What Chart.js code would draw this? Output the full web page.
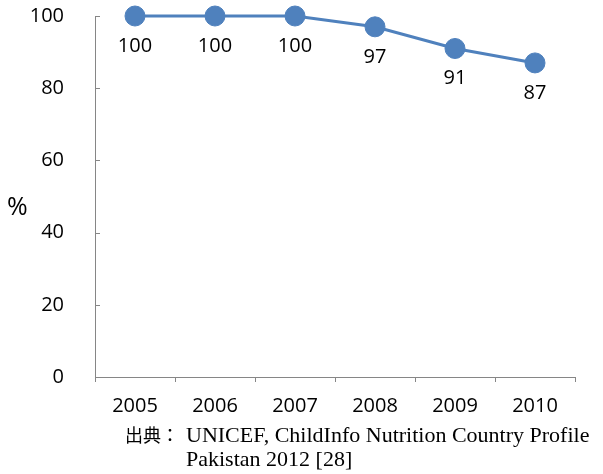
<!DOCTYPE html>
<html>
<head>
<meta charset="utf-8">
<script src="https://cdn.jsdelivr.net/npm/chart.js@4.4.1/dist/chart.umd.min.js"></script>
<style>
  html, body { margin: 0; padding: 0; background: #fff; }
  #wrap { position: relative; width: 603px; height: 474px; }
  #pct { position: absolute; left: 7px; top: 193px; font: 25px/25px "Open Sans", sans-serif; color: #000; }
  .src { position: absolute; font: 22px/22px "Liberation Serif", serif; color: #000; white-space: nowrap; }
  .src .jp { font-family: "Noto Sans CJK JP", sans-serif; font-size: 18px; margin-right: 7px; }
</style>
</head>
<body>
<div id="wrap">
  <canvas id="c" width="603" height="474"></canvas>
  <div id="pct">%</div>
  <div class="src" style="left:125px; top:423px;"><span class="jp">出典：</span>UNICEF, ChildInfo Nutrition Country Profile</div>
  <div class="src" style="left:186px; top:448px;">Pakistan 2012 [28]</div>
</div>
<script>
const years  = ['2005', '2006', '2007', '2008', '2009', '2010'];
const values = [100, 100, 100, 97, 91, 87];
const yTicks = [0, 20, 40, 60, 80, 100];

const FONT = { family: '"Open Sans", sans-serif', size: 20 };
const AXIS = '#868686';
const BLUE = '#4F81BD';

// value labels under each point
const pointLabels = {
  id: 'pointLabels',
  afterDatasetsDraw(chart) {
    const { ctx } = chart;
    const meta = chart.getDatasetMeta(0);
    ctx.save();
    ctx.font = `${FONT.size}px ${FONT.family}`;
    ctx.fillStyle = '#000';
    ctx.textAlign = 'center';
    ctx.textBaseline = 'middle';
    meta.data.forEach((pt, i) => {
      ctx.fillText(String(values[i]), pt.x, pt.y + 30);
    });
    ctx.restore();
  }
};

// short y ticks pointing into the plot
const innerTicks = {
  id: 'innerTicks',
  beforeDatasetsDraw(chart) {
    const { ctx } = chart;
    const y = chart.scales.y;
    ctx.save();
    ctx.strokeStyle = AXIS;
    ctx.lineWidth = 1;
    yTicks.forEach(v => {
      const py = Math.round(y.getPixelForValue(v)) + 0.5;
      ctx.beginPath();
      ctx.moveTo(y.right, py);
      ctx.lineTo(y.right + 5, py);
      ctx.stroke();
    });
    ctx.restore();
  }
};

new Chart(document.getElementById('c'), {
  type: 'line',
  data: {
    labels: years,
    datasets: [{
      data: values,
      borderColor: BLUE,
      backgroundColor: BLUE,
      borderWidth: 3,
      pointRadius: 10,
      pointHoverRadius: 10,
      pointBackgroundColor: BLUE,
      pointBorderColor: BLUE,
      pointBorderWidth: 1,
      tension: 0,
      clip: false
    }]
  },
  options: {
    responsive: false,
    animation: false,
    events: [],
    layout: { padding: { top: 16, right: 28, left: 0, bottom: 0 } },
    plugins: { legend: { display: false }, tooltip: { enabled: false } },
    scales: {
      x: {
        offset: true,
        grid: { display: true, drawOnChartArea: false, offset: true, tickLength: 5, color: AXIS },
        border: { color: AXIS, width: 1 },
        ticks: { font: FONT, color: '#000', padding: 12, maxRotation: 0 },
        afterFit: s => { s.height = 97; s.paddingLeft = 0; s.paddingRight = 0; }
      },
      y: {
        min: 0, max: 100,
        grid: { display: false },
        border: { color: AXIS, width: 1 },
        ticks: { font: FONT, color: '#000', stepSize: 20, padding: 23 },
        afterFit: s => { s.width = 95; s.paddingTop = 0; s.paddingBottom = 0; }
      }
    }
  },
  plugins: [innerTicks, pointLabels]
});
</script>
</body>
</html>
